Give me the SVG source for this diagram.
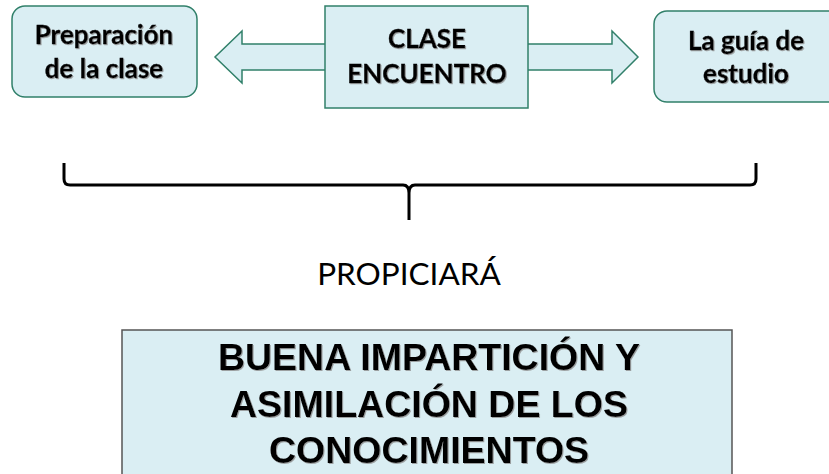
<svg xmlns="http://www.w3.org/2000/svg" width="829" height="474" viewBox="0 0 829 474">
<defs>
<filter id="sh" x="-10%" y="-20%" width="120%" height="140%">
<feDropShadow dx="1" dy="1" stdDeviation="0.6" flood-color="#8c8c8c" flood-opacity="0.8"/>
</filter>
</defs>
<style>
.box{fill:#daeef3;stroke:#31806a;stroke-width:1.5}
.lbl{font-family:Lato,"Open Sans",sans-serif;font-weight:bold;font-size:26px;fill:#000;stroke:#000;stroke-width:0.35;text-anchor:middle}
.big{font-family:"Liberation Sans",Arial,sans-serif;font-weight:bold;font-size:37.5px;fill:#000;text-anchor:middle}
</style>
<rect width="829" height="474" fill="#fff"/>
<g id="connectors">
<path class="box" d="M325,44 L242,44 L242,31 L215,57 L242,83 L242,70 L325,70"/>
<path class="box" d="M528,44 L612,44 L612,31 L638,57 L612,83 L612,70 L528,70"/>
<path d="M64,163 L64,179 Q64,185 70,185 L403,185 Q409,185 409,193 L409,220 M409,193 Q409,185 415,185 L750,185 Q756,185 756,179 L756,163" fill="none" stroke="#000" stroke-width="3"/>
</g>
<g id="prep">
<rect class="box" x="12" y="6" width="185" height="91" rx="13"/>
<g filter="url(#sh)"><text class="lbl" x="104" y="44">Preparación</text><text class="lbl" x="104" y="78">de la clase</text></g>
</g>
<g id="clase">
<rect class="box" x="325" y="6" width="203" height="102"/>
<g filter="url(#sh)"><text class="lbl" x="427" y="48" font-size="25">CLASE</text><text class="lbl" x="427" y="83" font-size="25">ENCUENTRO</text></g>
</g>
<g id="guia">
<rect class="box" x="654" y="11" width="190" height="91" rx="13"/>
<g filter="url(#sh)"><text class="lbl" x="746" y="50">La guía de</text><text class="lbl" x="746" y="83">estudio</text></g>
</g>
<g id="propiciara">
<text x="409" y="285" font-family="Lato,'Open Sans',sans-serif" font-size="31.5" text-anchor="middle" fill="#000">PROPICIARÁ</text>
</g>
<g id="resultado">
<rect x="122" y="330" width="610" height="160" fill="#daeef3" stroke="#555" stroke-width="1.5"/>
<g filter="url(#sh)"><text class="big" x="429" y="370">BUENA IMPARTICIÓN Y</text><text class="big" x="429" y="417">ASIMILACIÓN DE LOS</text><text class="big" x="429" y="463">CONOCIMIENTOS</text></g>
</g>
</svg>
